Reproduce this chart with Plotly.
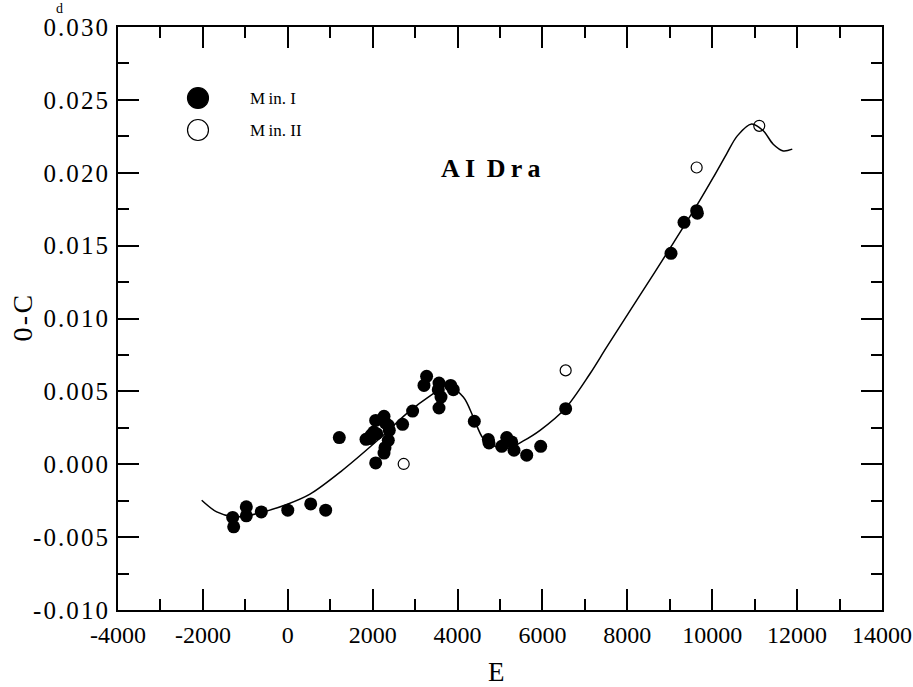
import plotly.graph_objects as go

# Primary minima (Min. I): epoch E and O-C residual in days
min1_E = [-1298, -1274, -977, -977, -624, 0, 540, 893,
          1214, 1843, 1937, 1961, 2024, 2071, 2071, 2094, 2267, 2267, 2290,
          2298, 2368, 2368, 2392, 2705, 2941, 3209, 3271, 3546, 3563, 3563,
          3610, 3838, 3900, 4395, 4725, 4741, 5040, 5158, 5275, 5330, 5629,
          5959, 6547, 9029, 9335, 9633, 9650]
min1_OC = [-0.00365, -0.00429, -0.00292, -0.00354, -0.00327, -0.00315, -0.00272, -0.00315,
           0.00183, 0.00171, 0.00176, 0.00199, 0.00221, 0.00301, 0.00009, 0.00210, 0.00329, 0.00077, 0.00114,
           0.00283, 0.00267, 0.00164, 0.00233, 0.00274, 0.00365, 0.00541, 0.00603, 0.00512, 0.00557, 0.00386,
           0.00461, 0.00541, 0.00512, 0.00295, 0.00169, 0.00146, 0.00123, 0.00183, 0.00153, 0.00096, 0.00062,
           0.00123, 0.00381, 0.01447, 0.01660, 0.01740, 0.01722]

# Secondary minima (Min. II)
min2_E = [2731, 6547, 9633, 11108]
min2_OC = [0.00002, 0.00644, 0.02036, 0.02322]

# Fitted O-C curve
fit_E = [-2028, -1675, -1284, -977, -624, -25, 523, 1250, 2250, 2800, 3428,
         3750, 4135, 4371, 4607, 4922, 5236, 5550, 5943, 6532, 7120, 7513,
         8299, 9045, 9633, 10025, 10340, 10591, 10928, 11202, 11437, 11673, 11886]
fit_OC = [-0.00247, -0.00327, -0.00360, -0.00354, -0.00331, -0.00276, -0.00205, -0.00050,
          0.00199, 0.00347, 0.00484, 0.00540, 0.00461, 0.00324, 0.00176, 0.00119, 0.00114,
          0.00160, 0.00233, 0.00381, 0.00621, 0.00803, 0.01160, 0.01500, 0.01774, 0.01968,
          0.02130, 0.02253, 0.02334, 0.02288, 0.02196, 0.02150, 0.02162]

x_ticks = list(range(-4000, 14001, 2000))
x_ticktext = ["-4000", "-2000", "0", "2000", "4000", "6000", "8000", "10000", "12000", "14000"]
y_ticks = [-0.010, -0.005, 0.000, 0.005, 0.010, 0.015, 0.020, 0.025, 0.030]
y_ticktext = ["-0.010", "-0.005", "0.000", "0.005", "0.010", "0.015", "0.020", "0.025", "0.030"]

SERIF = "Liberation Serif, Times New Roman, serif"
HAIR = "\u200a"
THIN = "\u2009"


def spaced(s, gap=HAIR):
    """Open up the letter spacing a little."""
    return gap.join(s)


fig = go.Figure()
fig.add_trace(go.Scatter(x=fit_E, y=fit_OC, mode="lines",
                         line=dict(color="black", width=1.5, shape="spline", smoothing=0.9),
                         showlegend=False, hoverinfo="skip"))
fig.add_trace(go.Scatter(x=min1_E, y=min1_OC, mode="markers", name="Min. I", showlegend=False,
                         marker=dict(symbol="circle", size=13, color="black", line=dict(width=0))))
fig.add_trace(go.Scatter(x=min2_E, y=min2_OC, mode="markers", name="Min. II", showlegend=False,
                         marker=dict(symbol="circle-open", size=11, color="black", line=dict(width=1.2))))

axis_common = dict(showline=True, linecolor="black", linewidth=2, mirror="ticks", ticks="inside",
                   tickcolor="black", tickwidth=1.5, ticklen=21, showgrid=False, zeroline=False,
                   ticklabeloverflow="allow", automargin=False)

fig.update_xaxes(range=[-4000, 14000], tickvals=x_ticks, ticktext=x_ticktext,
                 ticklabelstandoff=2, tickfont=dict(family=SERIF, size=24, color="black"), **axis_common,
                 minor=dict(ticks="inside", ticklen=11, tickwidth=1.5, tickcolor="black", dtick=1000, showgrid=False))
fig.update_yaxes(range=[-0.010, 0.030], tickvals=y_ticks, ticktext=[spaced(t) for t in y_ticktext],
                 ticklabelstandoff=3, tickfont=dict(family=SERIF, size=25, color="black"), **axis_common,
                 minor=dict(ticks="inside", ticklen=11, tickwidth=1.5, tickcolor="black", dtick=0.0025, showgrid=False))

# Axis titles
fig.add_annotation(xref="paper", yref="paper", x=0.495, y=0, yshift=-62, xanchor="center", yanchor="middle",
                   text="E", showarrow=False, font=dict(family=SERIF, size=27, color="black"))
fig.add_annotation(xref="paper", yref="paper", x=0, xshift=-96, y=0.5, xanchor="center", yanchor="middle",
                   text=spaced("0-C"), textangle=-90, showarrow=False,
                   font=dict(family=SERIF, size=28, color="black"))
# Unit mark (days) on the top tick label
fig.add_annotation(xref="paper", yref="paper", x=0, xshift=-59, y=1, yshift=19, xanchor="center", yanchor="middle",
                   text="d", showarrow=False, font=dict(family=SERIF, size=14, color="black"))

# Star name
fig.add_annotation(xref="paper", yref="paper", x=0.488, y=0.758, xanchor="center", yanchor="middle",
                   text="<b>" + "A" + THIN + "I " + THIN + spaced("Dra", THIN) + "</b>",
                   showarrow=False, font=dict(family=SERIF, size=26, color="black"))

# Key for the two kinds of minima
legend_rows = [("Min. I", "circle", 0.8782), ("Min. II", "circle-open", 0.8233)]
for label, sym, yp in legend_rows:
    filled = sym == "circle"
    fig.add_shape(type="circle", xref="paper", yref="paper", xsizemode="pixel", ysizemode="pixel",
                  xanchor=0.1047, yanchor=yp, x0=-10.5, x1=10.5, y0=-10.5, y1=10.5,
                  fillcolor="black" if filled else "white", line=dict(color="black", width=1.2))
    fig.add_annotation(xref="paper", yref="paper", x=0.1702, y=yp, xanchor="left", yanchor="middle",
                       text=label.replace("M", "M" + THIN, 1), showarrow=False,
                       font=dict(family=SERIF, size=17, color="black"))

fig.update_layout(
    width=913, height=687, margin=dict(l=118, r=31, t=27, b=77),
    paper_bgcolor="white", plot_bgcolor="white", showlegend=False,
)

fig.write_html("out.html")
